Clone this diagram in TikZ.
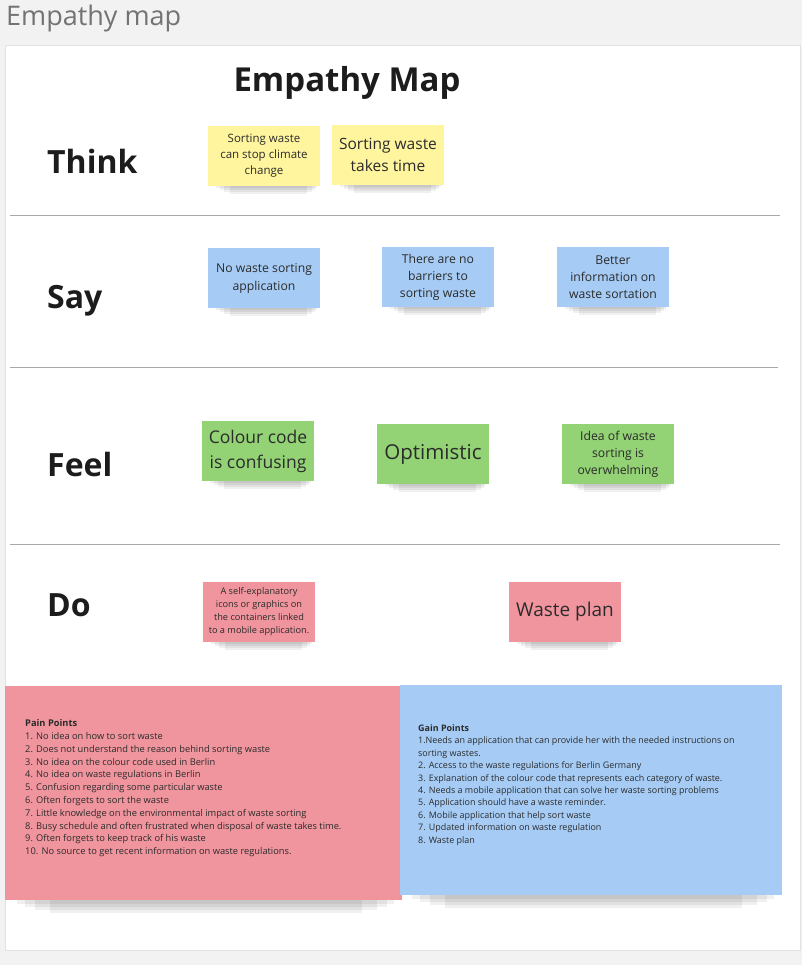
\documentclass[tikz,border=0pt]{standalone}
\usepackage{fontspec}
\setmainfont{Open Sans}
\usetikzlibrary{calc}
\pgfdeclarelayer{shadowlayer}
\pgfsetlayers{shadowlayer,main}
\definecolor{bgg}{HTML}{F2F2F2}
\definecolor{frameg}{HTML}{E2E2E2}
\definecolor{lineg}{HTML}{A8A8A8}
\definecolor{yel}{HTML}{FFF59F}
\definecolor{blu}{HTML}{A6CCF5}
\definecolor{grn}{HTML}{93D275}
\definecolor{red}{HTML}{F0959E}
\definecolor{txt}{HTML}{2B2B2B}
\definecolor{ttl}{HTML}{1C1C1C}
\begin{document}
\begin{tikzpicture}[x=1pt,y=-1pt,
  sticky/.style={draw=none, minimum width=112pt, minimum height=60pt, inner sep=2pt,
    align=center, text=txt},
  shadowpart/.style={fill=black, opacity=0.06},
  rowlabel/.style={anchor=west, font=\fontsize{32}{38}\selectfont\bfseries, text=ttl, inner sep=0pt},
  sep/.style={draw=lineg, line width=0.8pt},
  listtext/.style={anchor=north west, inner sep=0pt, align=left, text=txt}
]
\useasboundingbox (0,0) rectangle (802,965);
\begin{pgfonlayer}{shadowlayer}
\fill[bgg] (0,0) rectangle (802,965);
\filldraw[fill=white, draw=frameg, line width=1pt] (5,46) rectangle (800,950);
\end{pgfonlayer}
\node[anchor=west, text=black!55, font=\fontsize{27}{32}\selectfont, inner sep=0pt] (hdr) at (6,18) {Empathy map};
\node[font=\fontsize{33}{38}\selectfont\bfseries, text=ttl, inner sep=0pt] (title) at (347,83) {Empathy Map};

\node[rowlabel] (think) at (47,161) {Think};
\node[rowlabel] (say) at (47,301) {Say};
\node[rowlabel] (feel) at (47,464) {Feel};
\node[rowlabel] (do) at (47,605) {Do};

\draw[sep] (10,215) -- (780,215);
\draw[sep] (10,367) -- (778,367);
\draw[sep] (10,544) -- (780,544);

% Think
\node[sticky, fill=yel, font=\fontsize{11.5}{16}\selectfont] (t1) at (264,156) {Sorting waste\\can stop climate\\change};
\node[sticky, fill=yel, font=\fontsize{15.5}{22}\selectfont] (t2) at (388,155) {Sorting waste\\takes time};
% Say
\node[sticky, fill=blu, font=\fontsize{12.2}{18}\selectfont] (s1) at (264,278) {No waste sorting\\application};
\node[sticky, fill=blu, font=\fontsize{12.2}{17}\selectfont] (s2) at (438,277) {There are no\\barriers to\\sorting waste};
\node[sticky, fill=blu, font=\fontsize{12.2}{17}\selectfont] (s3) at (613,277) {Better\\information on\\waste sortation};
% Feel
\node[sticky, fill=grn, font=\fontsize{17.5}{25}\selectfont] (f1) at (258,451) {Colour code\\is confusing};
\node[sticky, fill=grn, font=\fontsize{20.5}{24}\selectfont] (f2) at (433,454) {Optimistic};
\node[sticky, fill=grn, font=\fontsize{12.2}{17}\selectfont] (f3) at (618,454) {Idea of waste\\sorting is\\overwhelming};
% Do
\node[sticky, fill=red, font=\fontsize{9.2}{13}\selectfont] (d1) at (259,612) {A self-explanatory\\icons or graphics on\\the containers linked\\to a mobile application.};
\node[sticky, fill=red, font=\fontsize{19}{22}\selectfont] (d2) at (565,612) {Waste plan};

% Pain points
\node[draw=none, fill=red, minimum width=397pt, minimum height=214pt, inner sep=0pt] (pain) at (203.5,793) {};
\node[listtext, font=\fontsize{9.3}{12.8}\selectfont] (paintext) at (25,719.5) {\textbf{Pain Points}\\
1. No idea on how to sort waste\\
2. Does not understand the reason behind sorting waste\\
3. No idea on the colour code used in Berlin\\
4. No idea on waste regulations in Berlin\\
5. Confusion regarding some particular waste\\
6. Often forgets to sort the waste\\
7. Little knowledge on the environmental impact of waste sorting\\
8. Busy schedule and often frustrated when disposal of waste takes time.\\
9. Often forgets to keep track of his waste\\
10. No source to get recent information on waste regulations.};

% Gain points
\node[draw=none, fill=blu, minimum width=382pt, minimum height=210pt, inner sep=0pt] (gain) at (591,790) {};
\node[listtext, font=\fontsize{8.95}{12.4}\selectfont] (gaintext) at (418,724.5) {\textbf{Gain Points}\\
1.Needs an application that can provide her with the needed instructions on\\
sorting wastes.\\
2. Access to the waste regulations for Berlin Germany\\
3. Explanation of the colour code that represents each category of waste.\\
4. Needs a mobile application that can solve her waste sorting problems\\
5. Application should have a waste reminder.\\
6. Mobile application that help sort waste\\
7. Updated information on waste regulation\\
8. Waste plan};

% soft shadows under the notes
\begin{pgfonlayer}{shadowlayer}
\foreach \n in {t1,t2,s1,s2,s3,f1,f2,f3,d1,d2} {
  \fill[shadowpart] ($(\n.south west)+(8,-4)$) rectangle ($(\n.south east)+(-3,2)$);
  \fill[shadowpart] ($(\n.south west)+(12,-4)$) rectangle ($(\n.south east)+(-5,4)$);
  \fill[shadowpart] ($(\n.south west)+(16,-4)$) rectangle ($(\n.south east)+(-8,6)$);
  \fill[shadowpart] ($(\n.south west)+(22,-4)$) rectangle ($(\n.south east)+(-13,8)$);
}
\foreach \n in {pain,gain} {
  \fill[shadowpart] ($(\n.south west)+(12,-4)$) rectangle ($(\n.south east)+(-8,4)$);
  \fill[shadowpart] ($(\n.south west)+(20,-4)$) rectangle ($(\n.south east)+(-15,7)$);
  \fill[shadowpart] ($(\n.south west)+(30,-4)$) rectangle ($(\n.south east)+(-25,10)$);
  \fill[shadowpart] ($(\n.south west)+(45,-4)$) rectangle ($(\n.south east)+(-40,13)$);
}
\end{pgfonlayer}
\end{tikzpicture}
\end{document}
